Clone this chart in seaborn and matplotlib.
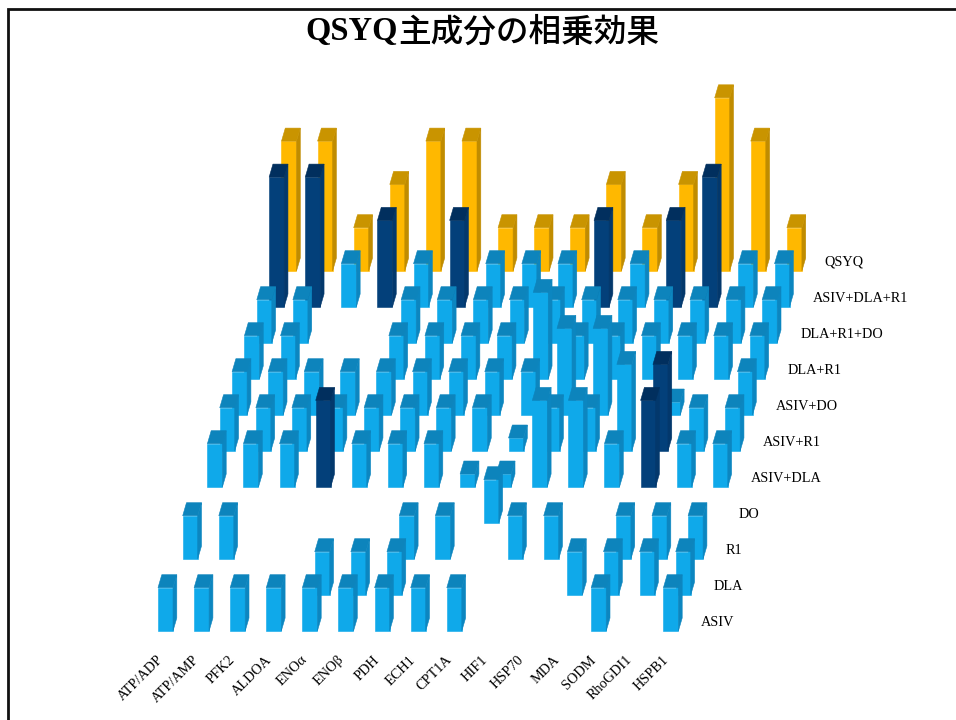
import matplotlib
matplotlib.use("Agg")
import matplotlib.pyplot as plt
from matplotlib.patches import Polygon
import pandas as pd
import seaborn as sns

GENES = ["ATP/ADP", "ATP/AMP", "PFK2", "ALDOA", "ENOα", "ENOβ", "PDH", "ECH1",
         "CPT1A", "HIF1", "HSP70", "MDA", "SODM", "RhoGDI1", "HSPB1"]
TREATMENTS = ["ASIV", "DLA", "R1", "DO", "ASIV+DLA", "ASIV+R1", "ASIV+DO",
              "DLA+R1", "DLA+R1+DO", "ASIV+DLA+R1", "QSYQ"]

# Effect size per gene; zero means no bar was recorded
ASIV = [1, 1, 1, 1, 1, 1, 1, 1, 1, 0, 0, 0, 1, 0, 1]
DLA = [0, 0, 0, 0, 1, 1, 1, 0, 0, 0, 0, 1, 1, 1, 1]
R1 = [1, 1, 0, 0, 0, 0, 1, 1, 0, 1, 1, 0, 1, 1, 1]
DO = [0, 0, 0, 0, 0, 0, 0, 0, 1, 0, 0, 0, 0, 0, 0]
ASIV_DLA = [1, 1, 1, 2, 1, 1, 1, 0.3, 0.3, 2, 2, 1, 2, 1, 1]
ASIV_R1 = [1, 1, 1, 1, 1, 1, 1, 1, 0.3, 1, 1, 2, 2, 1, 1]
ASIV_DO = [1, 1, 1, 1, 1, 1, 1, 1, 1, 2, 2, 0, 0.3, 0, 1]
DLA_R1 = [1, 1, 0, 0, 1, 1, 1, 1, 2, 1, 1, 1, 1, 1, 1]
DLA_R1_DO = [1, 1, 0, 0, 1, 1, 1, 1, 1, 1, 1, 1, 1, 1, 1]
ASIV_DLA_R1 = [3, 3, 1, 2, 1, 2, 1, 1, 1, 2, 1, 2, 3, 1, 1]
QSYQ = [3, 3, 1, 2, 3, 3, 1, 1, 1, 2, 1, 2, 4, 3, 1]

SERIES = [ASIV, DLA, R1, DO, ASIV_DLA, ASIV_R1, ASIV_DO, DLA_R1, DLA_R1_DO,
          ASIV_DLA_R1, QSYQ]

# Bars with a strong combined effect, drawn in navy
STRONG = {
    "ASIV+DLA": ["ALDOA", "SODM"],
    "ASIV+R1": ["SODM"],
    "ASIV+DLA+R1": ["ATP/ADP", "ATP/AMP", "ALDOA", "ENOβ", "HIF1", "MDA", "SODM"],
}

# face, top, side shades for each bar family
LIGHT = ("#0FA9EA", "#0D84BC", "#0C86C0")
NAVY = ("#03407A", "#012F5E", "#03386C")
GOLD = ("#FFB800", "#C99400", "#C08C00")

# Oblique projection of the (gene, treatment, height) grid on to the canvas
ORIGIN_X, ORIGIN_Y = 158.0, 631.0
GENE_DX = 36.1
ROW_DX, ROW_DY = 12.35, -36.0
UNIT = 43.3
FACE_W = 15.0
DEPTH_X, DEPTH_Y = 3.8, -13.0


def project(gene, row, height=0.0):
    return (ORIGIN_X + gene * GENE_DX + row * ROW_DX,
            ORIGIN_Y + row * ROW_DY - height * UNIT)


def draw_bar(ax, gene, row, value, colours, z):
    face, top, side = colours
    x, y0 = project(gene, row)
    _, y1 = project(gene, row, value)
    w, dx, dy = FACE_W, DEPTH_X, DEPTH_Y
    ax.add_patch(Polygon([(x, y0), (x + w, y0), (x + w, y1), (x, y1)],
                         closed=True, fc=face, ec=face, lw=0.4, zorder=z))
    ax.add_patch(Polygon([(x + w, y0), (x + w + dx, y0 + dy),
                          (x + w + dx, y1 + dy), (x + w, y1)],
                         closed=True, fc=side, ec=side, lw=0.4, zorder=z))
    ax.add_patch(Polygon([(x, y1), (x + w, y1), (x + w + dx, y1 + dy),
                          (x + dx, y1 + dy)],
                         closed=True, fc=top, ec=top, lw=0.4, zorder=z))


records = pd.DataFrame(
    [{"gene": g, "treatment": t, "row": r, "col": c, "value": SERIES[r][c]}
     for r, t in enumerate(TREATMENTS) for c, g in enumerate(GENES)]
)

sns.set_theme(style="white")
plt.rcParams["font.family"] = ["Liberation Serif", "Noto Sans CJK JP"]

fig = plt.figure(figsize=(9.56, 7.2), dpi=100, facecolor="white")
ax = fig.add_axes([0, 0, 1, 1])
ax.set_xlim(0, 956)
ax.set_ylim(720, 0)
ax.axis("off")

# Painted back to front so nearer rows cover the ones behind
ordered = records[records["value"] > 0].sort_values(["row", "col"], ascending=[False, True])
for z, rec in enumerate(ordered.itertuples(), start=5):
    if rec.gene in STRONG.get(rec.treatment, []):
        colours = NAVY
    elif rec.treatment == "QSYQ":
        colours = GOLD
    else:
        colours = LIGHT
    draw_bar(ax, rec.col, rec.row, rec.value, colours, z)

for r, name in enumerate(TREATMENTS):
    x, y = project(len(GENES) + 0.05, r)
    ax.text(x, y - 9, name, fontsize=10.3, color="black", ha="left", va="center", zorder=500)

for c, name in enumerate(GENES):
    x, y = project(c, 0)
    ax.text(x + 3, y + 27, name, fontsize=10.3, color="black", rotation=45,
            rotation_mode="anchor", ha="right", va="center", zorder=500)

# Title in two runs: bold Latin letters, lighter Japanese glyphs
ax.text(398, 28, "QSYQ", fontsize=23.5, fontweight="bold", color="black",
        ha="right", va="center_baseline", zorder=500)
ax.text(398, 28, "主成分の相乗効果", fontsize=23.5, fontweight="medium",
        family=["Noto Sans CJK JP", "Liberation Serif"], color="black",
        ha="left", va="center_baseline", zorder=500)

# Slide frame: only the top and left edges show
ax.plot([8.5, 8.5, 956], [720, 8.5, 8.5], color="#111111", lw=2.0,
        solid_joinstyle="miter", zorder=600)

fig.savefig("out.png", dpi=100, facecolor="white")
